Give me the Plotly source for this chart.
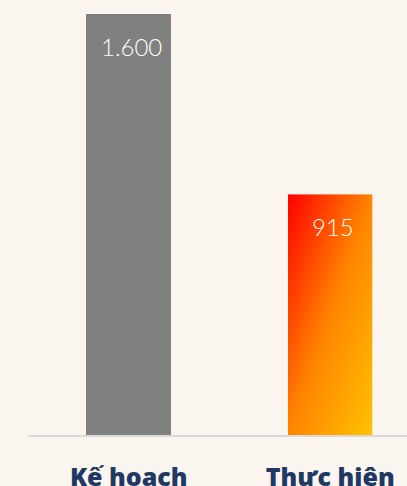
import base64
import plotly.graph_objects as go

categories = ["Kế hoạch", "Thực hiện"]
values = [1600, 915]
value_labels = ["1.600", "915"]

BG = "#FAF5EE"
NAVY = "#1F3864"

svg = ('<svg xmlns="http://www.w3.org/2000/svg" width="100" height="100" preserveAspectRatio="none" viewBox="0 0 100 100">'
       '<defs><linearGradient id="g" x1="0" y1="0" x2="1" y2="1">'
       '<stop offset="0" stop-color="#FF0000"/>'
       '<stop offset="0.5" stop-color="#FF8400"/>'
       '<stop offset="1" stop-color="#FFC200"/>'
       '</linearGradient></defs>'
       '<rect x="0" y="0" width="100" height="100" fill="url(#g)"/></svg>')
src = "data:image/svg+xml;base64," + base64.b64encode(svg.encode()).decode()

BAR_W = 0.42

fig = go.Figure()
fig.add_trace(go.Bar(
    x=categories, y=values, width=BAR_W,
    marker=dict(color=["#808080", "rgba(0,0,0,0)"], line=dict(width=0)),
    hoverinfo="skip",
))

fig.add_layout_image(dict(
    source=src, xref="x", yref="y",
    x=1 - BAR_W / 2, y=values[1], sizex=BAR_W, sizey=values[1],
    xanchor="left", yanchor="top", sizing="stretch", layer="below",
))

for i, (c, v, t) in enumerate(zip(categories, values, value_labels)):
    fig.add_annotation(
        x=i, y=v, text=t, showarrow=False, yanchor="top", yshift=-16, xshift=3,
        font=dict(family="Lato", size=24, color="white", weight=300),
    )

fig.update_layout(
    width=407, height=486,
    margin=dict(l=28, r=0, t=0, b=51, autoexpand=False),
    paper_bgcolor=BG, plot_bgcolor=BG,
    showlegend=False,
    bargap=0,
    xaxis=dict(
        range=[-0.5, 1.381], showgrid=False, zeroline=False, automargin=False,
        showline=True, linecolor="#D9D9D9", linewidth=2,
        tickmode="array", tickvals=[0, 1], ticktext=categories,
        ticks="", ticklabelstandoff=19,
        tickfont=dict(family="Open Sans", size=25, color=NAVY, weight=800),
    ),
    yaxis=dict(range=[0, 1653], visible=False, showgrid=False, zeroline=False, automargin=False),
)

fig.write_html(
    "out.html",
    config={"displayModeBar": False},
    post_script="document.body.style.margin='0';document.body.style.overflow='hidden';document.body.style.background='" + BG + "';",
)
